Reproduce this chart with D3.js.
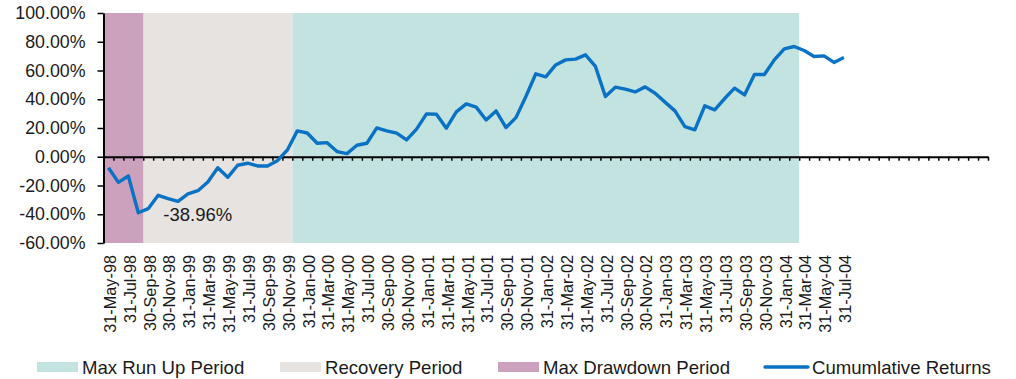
<!DOCTYPE html>
<html>
<head>
<meta charset="utf-8">
<script src="https://cdn.jsdelivr.net/npm/d3@7"></script>
<style>
  html, body { margin: 0; padding: 0; background: #ffffff; }
  svg { display: block; }
  text { font-family: "Liberation Sans", Arial, sans-serif; fill: #1a1a1a; }
</style>
</head>
<body>
<svg id="chart" width="1016" height="379"></svg>
<script>
// ---- data ----
const dates = [
  "31-May-98","30-Jun-98","31-Jul-98","31-Aug-98","30-Sep-98","31-Oct-98","30-Nov-98","31-Dec-98",
  "31-Jan-99","28-Feb-99","31-Mar-99","30-Apr-99","31-May-99","30-Jun-99","31-Jul-99","31-Aug-99","30-Sep-99","31-Oct-99","30-Nov-99","31-Dec-99",
  "31-Jan-00","29-Feb-00","31-Mar-00","30-Apr-00","31-May-00","30-Jun-00","31-Jul-00","31-Aug-00","30-Sep-00","31-Oct-00","30-Nov-00","31-Dec-00",
  "31-Jan-01","28-Feb-01","31-Mar-01","30-Apr-01","31-May-01","30-Jun-01","31-Jul-01","31-Aug-01","30-Sep-01","31-Oct-01","30-Nov-01","31-Dec-01",
  "31-Jan-02","28-Feb-02","31-Mar-02","30-Apr-02","31-May-02","30-Jun-02","31-Jul-02","31-Aug-02","30-Sep-02","31-Oct-02","30-Nov-02","31-Dec-02",
  "31-Jan-03","28-Feb-03","31-Mar-03","30-Apr-03","31-May-03","30-Jun-03","31-Jul-03","31-Aug-03","30-Sep-03","31-Oct-03","30-Nov-03","31-Dec-03",
  "31-Jan-04","29-Feb-04","31-Mar-04","30-Apr-04","31-May-04","30-Jun-04","31-Jul-04"
];
// empty trailing categories on the axis (no data, no labels)
const emptyCategories = ["","","","","","","","","","","","","",""];

const cumulativeReturns = [
  -7.6, -17.8, -13.4, -38.96, -36.1, -26.8, -29.2, -31.0, -25.9, -23.6,
  -17.5, -7.6, -14.3, -5.9, -4.5, -6.4, -6.4, -2.7, 4.7, 18.0,
  16.5, 9.4, 9.8, 3.6, 2.2, 8.0, 9.4, 20.1, 18.0, 16.4,
  11.7, 19.2, 29.8, 29.6, 19.9, 31.2, 36.8, 34.5, 25.6, 31.9,
  20.3, 27.2, 41.9, 57.7, 55.6, 63.9, 67.4, 67.9, 70.9, 62.8,
  41.9, 48.4, 47.0, 45.1, 48.6, 44.2, 38.0, 31.9, 21.0, 18.7,
  35.4, 32.6, 40.5, 47.7, 43.0, 57.2, 57.2, 67.4, 75.1, 76.7,
  73.9, 69.7, 70.2, 65.6, 69.0
];

const periodNames  = ["Max Run Up Period", "Recovery Period", "Max Drawdown Period"];
const periodStarts = ["31-Dec-99", "30-Sep-98", "31-May-98"];
const periodEnds   = ["29-Feb-04", "30-Nov-99", "31-Aug-98"];
const periodColors = ["#c3e3e0", "#e7e3e0", "#cba1bd"];

const lineName = "Cumumlative Returns";
const lineColor = "#0a72c4";

const yTicks = [-60, -40, -20, 0, 20, 40, 60, 80, 100];
const minLabel = "-38.96%";
const minDate = "31-Aug-98";

// ---- layout ----
const svg = d3.select("#chart");
const plot = { left: 103.5, right: 988, top: 13, bottom: 243 };

const categories = dates.concat(emptyCategories.map((d, i) => "__empty" + i));
const x = d3.scaleBand().domain(categories).range([plot.left, plot.right]).padding(0);
const bw = x.bandwidth();
const y = d3.scaleLinear().domain([-60, 100]).range([plot.bottom, plot.top]);
const xEdge = d3.scaleLinear().domain([0, categories.length]).range([plot.left, plot.right]);

// shaded periods
svg.append("g").selectAll("rect")
  .data(periodNames.map((n, i) => ({ n, s: periodStarts[i], e: periodEnds[i], c: periodColors[i] })))
  .join("rect")
  .attr("x", d => x(d.s))
  .attr("width", d => x(d.e) + bw - x(d.s))
  .attr("y", y(100))
  .attr("height", y(-60) - y(100))
  .attr("fill", d => d.c);

// y axis
const yAxis = d3.axisLeft(y).tickValues(yTicks).tickFormat(d => d.toFixed(2) + "%")
  .tickSize(6).tickSizeOuter(0).tickPadding(12);
const gy = svg.append("g").attr("transform", `translate(${plot.left},0)`).call(yAxis);
gy.select(".domain").attr("stroke", "#000").attr("stroke-width", 2);
gy.selectAll(".tick line").attr("stroke", "#000").attr("stroke-width", 1.5);
gy.selectAll(".tick text").attr("font-size", 17.8).attr("fill", "#1a1a1a")
  .style("font-family", "'Liberation Sans', Arial, sans-serif");

// x axis along zero line
const xAxis = d3.axisBottom(xEdge).tickValues(d3.range(0, categories.length + 1))
  .tickFormat("").tickSize(4).tickSizeOuter(0);
const gx = svg.append("g").attr("transform", `translate(0,${y(0)})`).call(xAxis);
gx.select(".domain").attr("stroke", "#000").attr("stroke-width", 2);
gx.selectAll(".tick line").attr("stroke", "#000").attr("stroke-width", 1.5);

// category labels
svg.append("g").selectAll("text")
  .data(dates.filter((d, i) => i % 2 === 0))
  .join("text")
  .attr("transform", d => `translate(${x(d) + bw / 2},255) rotate(-90)`)
  .attr("text-anchor", "end")
  .attr("dy", "0.45em")
  .attr("font-size", 16.3)
  .text(d => d);

// line
const line = d3.line().x((d, i) => x(dates[i]) + bw / 2).y(d => y(d));
svg.append("path")
  .datum(cumulativeReturns)
  .attr("d", line)
  .attr("fill", "none")
  .attr("stroke", lineColor)
  .attr("stroke-width", 3.4)
  .attr("stroke-linejoin", "round");

// min annotation
svg.append("text")
  .attr("x", x(minDate) + bw / 2 + 25)
  .attr("y", y(-38.96) + 8)
  .attr("font-size", 18.5)
  .text(minLabel);

// legend
const legendY = 367;
const legendItems = [
  { name: periodNames[0], color: periodColors[0], type: "rect", x: 37 },
  { name: periodNames[1], color: periodColors[1], type: "rect", x: 280 },
  { name: periodNames[2], color: periodColors[2], type: "rect", x: 498 },
  { name: lineName, color: lineColor, type: "line", x: 765 }
];
const lg = svg.append("g").selectAll("g").data(legendItems).join("g")
  .attr("transform", d => `translate(${d.x},${legendY})`);
lg.filter(d => d.type === "rect").append("rect")
  .attr("x", 0).attr("y", -5).attr("width", 41).attr("height", 10)
  .attr("fill", d => d.color);
lg.filter(d => d.type === "line").append("line")
  .attr("x1", 0).attr("x2", 43).attr("y1", 0).attr("y2", 0)
  .attr("stroke", d => d.color).attr("stroke-width", 3.4).attr("stroke-linecap", "round");
lg.append("text")
  .attr("x", d => d.type === "line" ? 47 : 45)
  .attr("y", 6.5)
  .attr("font-size", 18.6)
  .text(d => d.name);
</script>
</body>
</html>
